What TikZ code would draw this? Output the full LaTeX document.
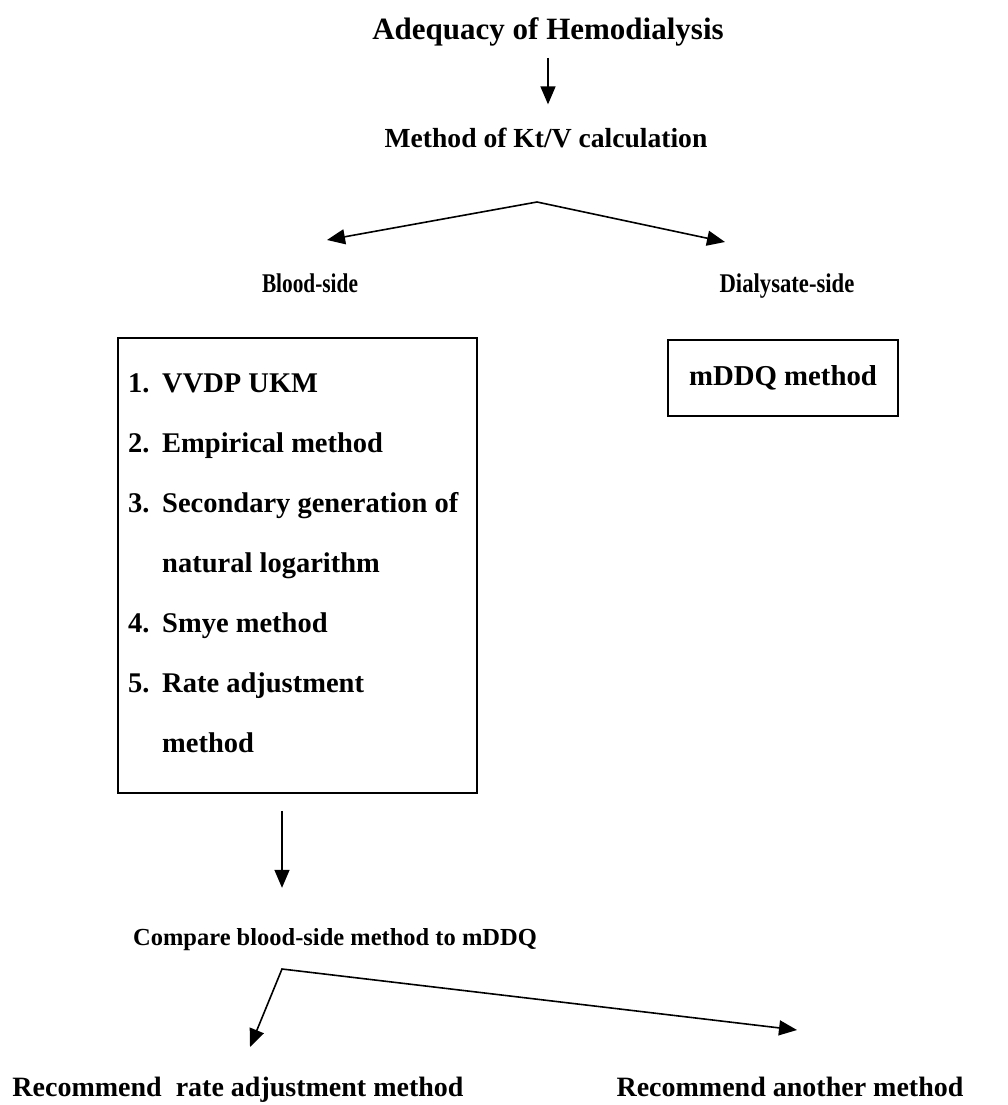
\documentclass[tikz,border=0pt]{standalone}
\usepackage{fontspec}
\setmainfont{Liberation Serif}
\usetikzlibrary{arrows.meta,positioning}

\tikzset{
  lbl/.style={font=\bfseries\fontsize{#1}{#1}\selectfont, inner sep=0pt, anchor=base},
  lbl/.default=28,
  arr/.style={-{Triangle[length=18pt,width=15pt]}, line width=1.6pt},
  arrtwo/.style={{Triangle[length=18pt,width=15pt]}-{Triangle[length=18pt,width=15pt]}, line width=1.6pt},
  frame/.style={draw, line width=1.8pt, inner sep=0pt}
}
% narrow lettering of the scan
\newcommand{\narrow}[2]{\scalebox{#1}[1]{#2}}

\begin{document}
\begin{tikzpicture}[x=1pt,y=-1pt]
\useasboundingbox (0,0) rectangle (1008,1105);

% Title and first step
\node[lbl=31] (title) at (548,40) {Adequacy of Hemodialysis};
\node[lbl=27.6] (kt) at (546,147) {Method of Kt/V calculation};
\draw[arr, shorten <=11pt, shorten >=23pt] (title.south) -- (title.south |- kt.north);

% The two sides
\node[lbl=27] (blood) at (310,292) {\narrow{0.79}{Blood-side}};
\node[lbl=27] (dial) at (787,292) {\narrow{0.84}{Dialysate-side}};
\coordinate (fork1) at (537,202);
\coordinate (toblood) at (327,240);
\coordinate (todial) at (725,242);
\draw[arrtwo] (toblood) -- (fork1) -- (todial);

% Blood-side methods
\node[frame, minimum width=359pt, minimum height=455pt] (bloodbox) at (297.5,565.5) {};
\foreach \y/\n/\t [count=\i] in {383/1./VVDP UKM, 443/2./Empirical method,
    503/3./Secondary generation of, 563//natural logarithm, 623/4./Smye method,
    683/5./Rate adjustment, 743//method} {
  \node[lbl=28.5, anchor=base west] (num\i) at (128,{\y+9.5}) {\n};
  \node[lbl=28.5, anchor=base west] (item\i) at (162,{\y+9.5}) {\t};
}

% Dialysate-side method
\node[frame, font=\bfseries\fontsize{28.8}{28.8}\selectfont,
  minimum width=230pt, minimum height=76pt] (ddq) at (783,378) {mDDQ method};

% Comparison
\coordinate (fork2) at (282,969);
\node[lbl=24.5] (cmp) at (335,945) {Compare blood-side method to mDDQ};
\draw[arr, shorten <=17pt, shorten >=40pt] (bloodbox.south -| fork2) -- (cmp.north -| fork2);

% Recommendations
\node[lbl=28] (recl) at (238,1096) {Recommend\ \ rate adjustment method};
\node[lbl=28] (recr) at (790,1096) {Recommend another method};
\coordinate (torecl) at (250,1047);
\coordinate (torecr) at (797,1030);
\draw[arrtwo] (torecl) -- (fork2) -- (torecr);

\end{tikzpicture}
\end{document}
